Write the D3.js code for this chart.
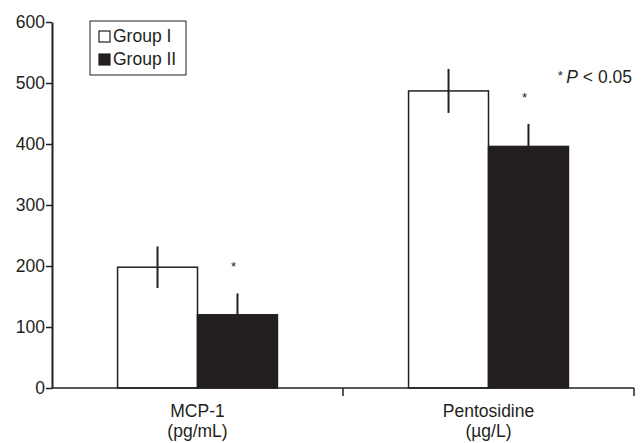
<!DOCTYPE html>
<html>
<head>
<meta charset="utf-8">
<title>MCP-1 and pentosidine</title>
<style>
  body { margin: 0; background: #fff; }
  text { font-family: "Liberation Sans", Arial, sans-serif; fill: #231f20; }
</style>
<script src="https://d3js.org/d3.v7.min.js"></script>
</head>
<body>
<svg id="chart" width="641" height="443"></svg>
<script>
var categories = ["MCP-1", "Pentosidine"];
var units = ["(pg/mL)", "(\u00b5g/L)"];
var groups = ["Group I", "Group II"];
var group1Mean = [198, 487];
var group1Err = [34, 36];
var group2Mean = [120, 396];
var group2Err = [35, 37];
var yTicks = [0, 100, 200, 300, 400, 500, 600];

var ink = "#231f20";
var fs = 17.5;
var svg = d3.select("#chart");

var y = d3.scaleLinear().domain([0, 600]).range([388, 22]);
var x = d3.scaleBand().domain(categories).range([52, 634]);
var x1 = d3.scaleBand().domain(groups).range([0, x.bandwidth()]).paddingOuter(0.82);

var rows = [];
categories.forEach(function(c, i) {
  rows.push({cat: c, grp: groups[0], mean: group1Mean[i], err: group1Err[i], fill: "#fff", star: false});
  rows.push({cat: c, grp: groups[1], mean: group2Mean[i], err: group2Err[i], fill: ink, star: true});
});

// bars
svg.selectAll("rect.bar").data(rows).enter().append("rect")
  .attr("class", "bar")
  .attr("x", function(d) { return x(d.cat) + x1(d.grp); })
  .attr("y", function(d) { return y(d.mean); })
  .attr("width", x1.bandwidth())
  .attr("height", function(d) { return y(0) - y(d.mean); })
  .attr("fill", function(d) { return d.fill; })
  .attr("stroke", ink)
  .attr("stroke-width", 1.5);

// error bars
svg.selectAll("line.err").data(rows).enter().append("line")
  .attr("class", "err")
  .attr("x1", function(d) { return x(d.cat) + x1(d.grp) + x1.bandwidth() / 2; })
  .attr("x2", function(d) { return x(d.cat) + x1(d.grp) + x1.bandwidth() / 2; })
  .attr("y1", function(d) { return y(d.mean + d.err); })
  .attr("y2", function(d) { return y(d.mean - d.err); })
  .attr("stroke", ink)
  .attr("stroke-width", 2);

// asterisks
svg.selectAll("text.star").data(rows.filter(function(d) { return d.star; })).enter().append("text")
  .attr("class", "star")
  .attr("x", function(d) { return x(d.cat) + x1(d.grp) + x1.bandwidth() / 2 - 4; })
  .attr("y", function(d) { return y(d.mean + d.err) - 22; })
  .attr("text-anchor", "middle")
  .attr("font-size", 13)
  .text("*");

// y axis
var yAxis = svg.append("g")
  .attr("transform", "translate(52,0)")
  .call(d3.axisLeft(y).tickValues(yTicks).tickSize(6).tickSizeOuter(0));
yAxis.select(".domain").attr("stroke", ink).attr("stroke-width", 2);
yAxis.selectAll(".tick line").attr("stroke", ink).attr("stroke-width", 1.5);
yAxis.selectAll(".tick text").attr("font-size", fs).attr("fill", ink).attr("x", -7)
  .style("font-family", "'Liberation Sans', Arial, sans-serif");

// x axis
var xr = x.range();
svg.append("line").attr("x1", xr[0]).attr("x2", xr[1]).attr("y1", y(0)).attr("y2", y(0))
  .attr("stroke", ink).attr("stroke-width", 1.5);
svg.selectAll("line.xtick").data(categories).enter().append("line")
  .attr("class", "xtick")
  .attr("x1", function(c) { return x(c) + x.bandwidth(); })
  .attr("x2", function(c) { return x(c) + x.bandwidth(); })
  .attr("y1", y(0)).attr("y2", y(0) + 8)
  .attr("stroke", ink).attr("stroke-width", 1.5);

var lab = svg.selectAll("g.xlab").data(categories).enter().append("g").attr("class", "xlab");
lab.append("text")
  .attr("x", function(c) { return x(c) + x.bandwidth() / 2; })
  .attr("y", 417).attr("text-anchor", "middle").attr("font-size", fs)
  .text(function(c) { return c; });
lab.append("text")
  .attr("x", function(c) { return x(c) + x.bandwidth() / 2; })
  .attr("y", 437).attr("text-anchor", "middle").attr("font-size", fs)
  .text(function(c, i) { return units[i]; });

// p-value note
var note = svg.append("text").attr("x", 632).attr("y", 83).attr("text-anchor", "end").attr("font-size", fs);
note.append("tspan").attr("font-size", 13).attr("dy", -3).text("* ");
note.append("tspan").attr("font-style", "italic").attr("dy", 3).text("P");
note.append("tspan").text(" < 0.05");

// legend
var leg = svg.append("g").attr("transform", "translate(90,21)");
leg.append("rect").attr("width", 96).attr("height", 54)
  .attr("fill", "#fff").attr("stroke", ink).attr("stroke-width", 1);
groups.forEach(function(g, i) {
  leg.append("rect").attr("x", 9).attr("y", 10 + i * 23).attr("width", 11).attr("height", 11)
    .attr("fill", i === 0 ? "#fff" : ink).attr("stroke", ink).attr("stroke-width", 1.2);
  leg.append("text").attr("x", 23).attr("y", 21 + i * 23).attr("font-size", fs).text(g);
});
</script>
</body>
</html>
